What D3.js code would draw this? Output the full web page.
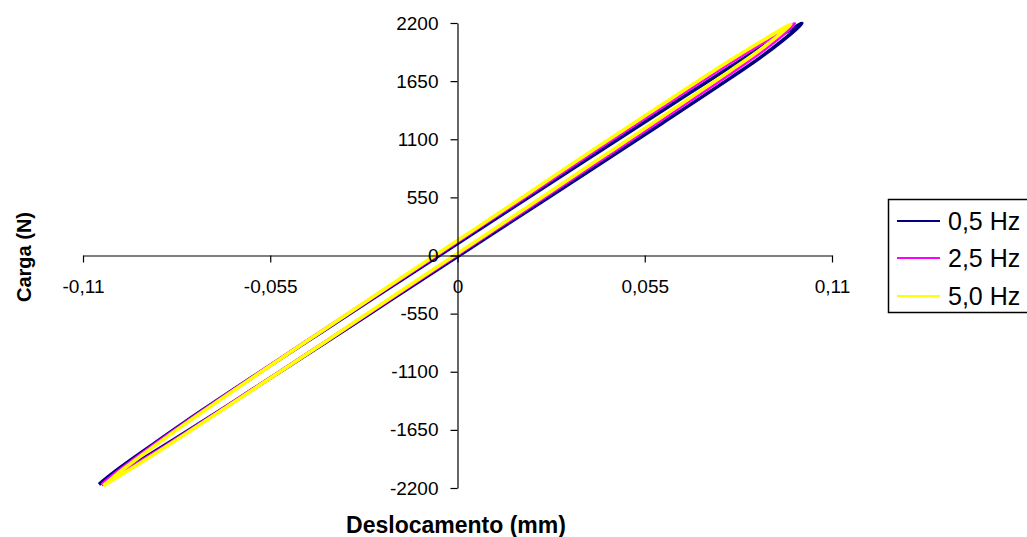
<!DOCTYPE html>
<html>
<head>
<meta charset="utf-8">
<script src="https://cdn.jsdelivr.net/npm/d3@7"></script>
<style>
  html, body { margin: 0; padding: 0; background: #fff; }
  svg { display: block; }
  text { font-family: "Liberation Sans", Arial, sans-serif; fill: #000; }
</style>
</head>
<body>
<svg id="chart" width="1027" height="537"></svg>
<script>
// ---- data (displacement in mm, load in N) ----
const seriesNames = ["0,5 Hz", "2,5 Hz", "5,0 Hz"];
const seriesColors = ["#000080", "#FF00FF", "#FFFF00"];
const xTicks = [-0.11, -0.055, 0, 0.055, 0.11];
const xTickLabels = ["-0,11", "-0,055", "0", "0,055", "0,11"];
const yTicks = [2200, 1650, 1100, 550, 0, -550, -1100, -1650, -2200];
const yTickLabels = ["2200", "1650", "1100", "550", "0", "-550", "-1100", "-1650", "-2200"];

// displacement points at which both branches of each loop were read
const disp = [-0.10, -0.09, -0.08, -0.06, -0.04, -0.02, 0, 0.02, 0.04, 0.06, 0.08, 0.09];

// 0,5 Hz
const hz05Lower = [-2066, -1876, -1676, -1264, -848, -429, -10, 409, 828, 1250, 1676, 1898];
const hz05Upper = [-2030, -1800, -1575, -1146, -725, -306, 113, 532, 951, 1368, 1781, 1984];
const hz05Tips = [[-0.1053, -2165], [0.1012, 2195]];
// 2,5 Hz
const hz25Lower = [-2086, -1889, -1684, -1264, -842, -416, 9, 434, 860, 1288, 1720, 1946];
const hz25Upper = [-2050, -1812, -1584, -1147, -719, -293, 132, 557, 983, 1405, 1821, 2020];
const hz25Tips = [[-0.1045, -2170], [0.099, 2192]];
// 5,0 Hz
const hz50Lower = [-2100, -1900, -1692, -1268, -841, -410, 19, 448, 879, 1310, 1746, 1973];
const hz50Upper = [-2068, -1826, -1593, -1151, -718, -287, 142, 571, 1002, 1427, 1845, 2041];
const hz50Tips = [[-0.104, -2178], [0.098, 2188]];

const loops = [
  { lower: hz05Lower, upper: hz05Upper, tips: hz05Tips },
  { lower: hz25Lower, upper: hz25Upper, tips: hz25Tips },
  { lower: hz50Lower, upper: hz50Upper, tips: hz50Tips }
];

// ---- drawing ----
const svg = d3.select("#chart");
const x = d3.scaleLinear().domain([-0.11, 0.11]).range([83, 832]);
const y = d3.scaleLinear().domain([-2200, 2200]).range([488, 23]);

// loops
const line = d3.line().x(d => x(d[0])).y(d => y(d[1])).curve(d3.curveCatmullRom.alpha(0.5));
loops.forEach((s, i) => {
  const pts = [];
  pts.push(s.tips[0]);
  disp.forEach((d, j) => pts.push([d, s.lower[j]]));
  pts.push(s.tips[1]);
  for (let j = disp.length - 1; j >= 0; j--) pts.push([disp[j], s.upper[j]]);
  pts.push(s.tips[0]);
  svg.append("path")
    .attr("d", line(pts))
    .attr("fill", "none")
    .attr("stroke", seriesColors[i])
    .attr("stroke-width", 3.6)
    .attr("stroke-linejoin", "round");
});

// x axis (crossing at load 0)
const xAxis = d3.axisBottom(x).tickValues(xTicks).tickSize(7).tickSizeOuter(0)
  .tickFormat((d, i) => xTickLabels[i]);
const gx = svg.append("g").attr("transform", `translate(0,${y(0)})`).call(xAxis);
gx.select(".domain").attr("stroke", "#000").attr("stroke-width", 1.2);
gx.selectAll(".tick line").attr("stroke", "#000").attr("stroke-width", 1.2);
gx.selectAll(".tick text")
  .attr("y", 31).attr("dy", "0.35em")
  .style("font-size", "19px")
  .style("font-family", "'Liberation Sans', Arial, sans-serif")
  .attr("fill", "#111");

// y axis (crossing at displacement 0)
const yAxis = d3.axisLeft(y).tickValues(yTicks).tickSize(7).tickSizeOuter(0)
  .tickFormat((d, i) => yTickLabels[i]);
const gy = svg.append("g").attr("transform", `translate(${x(0)},0)`).call(yAxis);
gy.select(".domain").attr("stroke", "#000").attr("stroke-width", 1.2);
gy.selectAll(".tick line").attr("stroke", "#000").attr("stroke-width", 1.2);
gy.selectAll(".tick text")
  .attr("x", -19)
  .style("font-size", "19px")
  .style("font-family", "'Liberation Sans', Arial, sans-serif")
  .attr("fill", "#111");

// axis titles
svg.append("text")
  .attr("x", 456).attr("y", 525).attr("dy", "0.35em")
  .attr("text-anchor", "middle")
  .style("font-size", "23px").style("font-weight", "bold")
  .text("Deslocamento (mm)");
svg.append("text")
  .attr("transform", "translate(24,257) rotate(-90)")
  .attr("dy", "0.35em")
  .attr("text-anchor", "middle")
  .style("font-size", "20px").style("font-weight", "bold")
  .text("Carga (N)");

// legend
const legend = svg.append("g");
legend.append("rect")
  .attr("x", 888.5).attr("y", 199.5).attr("width", 160).attr("height", 113)
  .attr("fill", "#fff").attr("stroke", "#000").attr("stroke-width", 1.5);
const rowY = [221, 258, 296];
seriesNames.forEach((name, i) => {
  legend.append("line")
    .attr("x1", 897).attr("x2", 940).attr("y1", rowY[i]).attr("y2", rowY[i])
    .attr("stroke", seriesColors[i]).attr("stroke-width", 2);
  legend.append("text")
    .attr("x", 948).attr("y", rowY[i]).attr("dy", "0.35em")
    .style("font-size", "25px")
    .attr("fill", "#222")
    .text(name);
});
</script>
</body>
</html>
